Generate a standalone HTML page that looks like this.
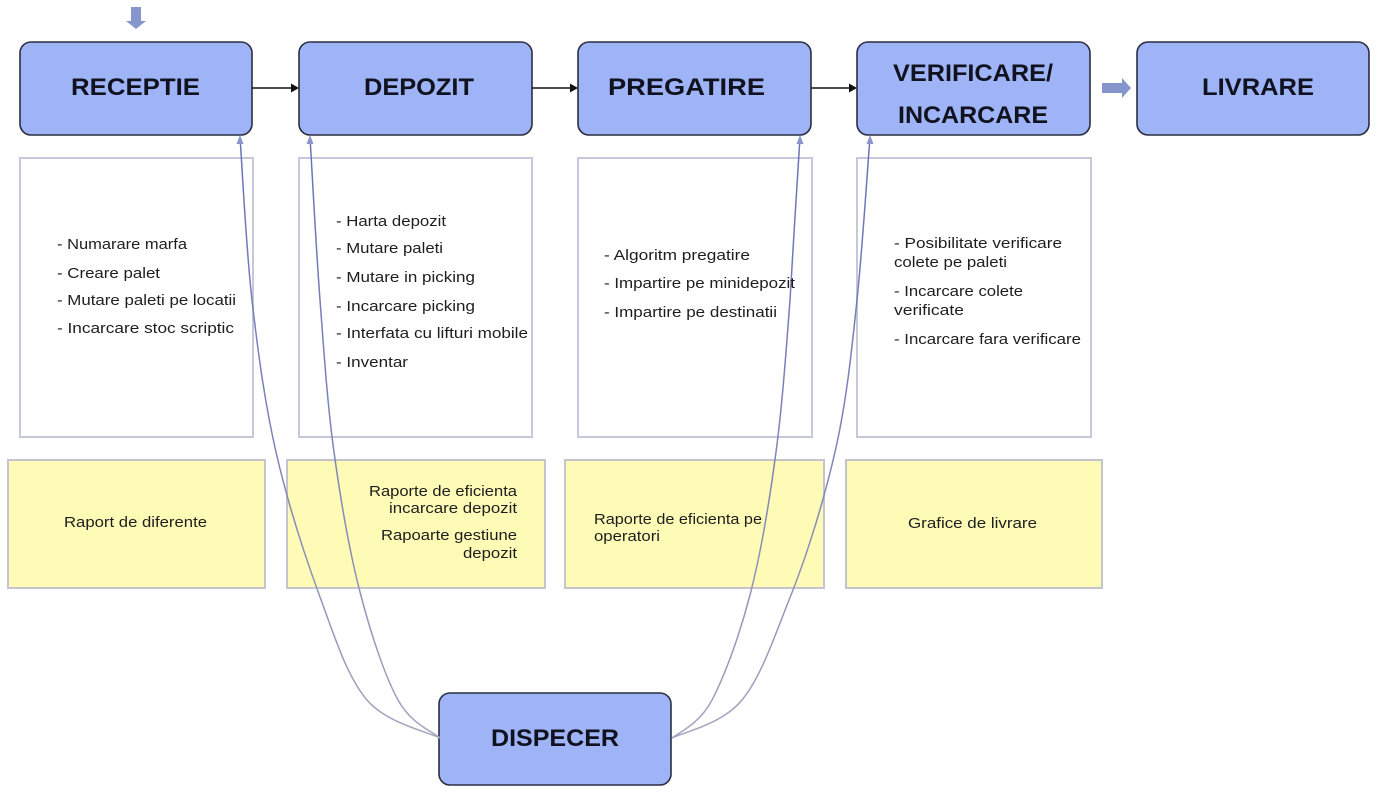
<!DOCTYPE html>
<html>
<head>
<meta charset="utf-8">
<style>
  html, body { margin: 0; padding: 0; background: #ffffff; }
  body { width: 1386px; height: 802px; overflow: hidden; }
  svg { display: block; }
  .t { font-family: "Liberation Sans", Arial, sans-serif; font-weight: bold; font-size: 24px; fill: #10121f; }
  .s { font-family: "Liberation Sans", Arial, sans-serif; font-size: 15px; fill: #1e1e1e; }
</style>
</head>
<body>
<svg width="1386" height="802" viewBox="0 0 1386 802" xmlns="http://www.w3.org/2000/svg">
  <defs>
    <linearGradient id="cg" x1="0" y1="0" x2="0" y2="1" gradientUnits="objectBoundingBox">
      <stop offset="0" stop-color="#6a72b8"/>
      <stop offset="0.6" stop-color="#8288b8"/>
      <stop offset="1" stop-color="#a4a7bd"/>
    </linearGradient>
  </defs>

  <!-- top input arrow -->
  <rect x="131" y="7" width="10" height="14" fill="#8696cc"/>
  <polygon points="126,21 146,21 136,29" fill="#8696cc"/>

  <!-- white description boxes -->
  <rect x="20" y="158" width="233" height="279" fill="#ffffff" stroke="#c6c7da" stroke-width="2"/>
  <rect x="299" y="158" width="233" height="279" fill="#ffffff" stroke="#c6c7da" stroke-width="2"/>
  <rect x="578" y="158" width="234" height="279" fill="#ffffff" stroke="#c6c7da" stroke-width="2"/>
  <rect x="857" y="158" width="234" height="279" fill="#ffffff" stroke="#c6c7da" stroke-width="2"/>

  <!-- yellow report boxes -->
  <rect x="8" y="460" width="257" height="128" fill="#fdfbb6" stroke="#c4c4cc" stroke-width="2"/>
  <rect x="287" y="460" width="258" height="128" fill="#fdfbb6" stroke="#c4c4cc" stroke-width="2"/>
  <rect x="565" y="460" width="259" height="128" fill="#fdfbb6" stroke="#c4c4cc" stroke-width="2"/>
  <rect x="846" y="460" width="256" height="128" fill="#fdfbb6" stroke="#c4c4cc" stroke-width="2"/>

  <!-- main process boxes -->
  <rect x="20" y="42" width="232" height="93" rx="11" ry="11" fill="#9fb4f6" stroke="#2b2d40" stroke-width="1.6"/>
  <rect x="299" y="42" width="233" height="93" rx="11" ry="11" fill="#9fb4f6" stroke="#2b2d40" stroke-width="1.6"/>
  <rect x="578" y="42" width="233" height="93" rx="11" ry="11" fill="#9fb4f6" stroke="#2b2d40" stroke-width="1.6"/>
  <rect x="857" y="42" width="233" height="93" rx="11" ry="11" fill="#9fb4f6" stroke="#2b2d40" stroke-width="1.6"/>
  <rect x="1137" y="42" width="232" height="93" rx="11" ry="11" fill="#9fb4f6" stroke="#2b2d40" stroke-width="1.6"/>
  <rect x="439" y="693" width="232" height="92" rx="11" ry="11" fill="#9fb4f6" stroke="#2b2d40" stroke-width="1.6"/>

  <!-- black connectors -->
  <line x1="252" y1="88" x2="292" y2="88" stroke="#111" stroke-width="1.6"/>
  <polygon points="291,83.5 299,88 291,92.5" fill="#111"/>
  <line x1="532" y1="88" x2="571" y2="88" stroke="#111" stroke-width="1.6"/>
  <polygon points="570,83.5 578,88 570,92.5" fill="#111"/>
  <line x1="811" y1="88" x2="850" y2="88" stroke="#111" stroke-width="1.6"/>
  <polygon points="849,83.5 857,88 849,92.5" fill="#111"/>

  <!-- block arrow to LIVRARE -->
  <rect x="1102" y="83" width="21" height="10" fill="#8696cc"/>
  <polygon points="1122,78 1131,88 1122,98" fill="#8696cc"/>

  <!-- dispatcher curves -->
  <g fill="none" stroke="url(#cg)" stroke-width="1.5">
    <path d="M240,137 C242,164.2 246,247.5 252,300 C258,352.5 264.7,402.5 276,452 C287.3,501.5 304.8,555.7 320,597 C335.2,638.3 347,676.5 367,700 C387,723.5 427.8,731.7 440,738"/>
    <path d="M310,137 C311.7,164.2 316,247.5 320,300 C324,352.5 327.3,403.3 334,452 C340.7,500.7 349.3,550.7 360,592 C370.7,633.3 384.7,675.7 398,700 C411.3,724.3 433,731.7 440,738"/>
    <path d="M800,137 C798.3,164.2 793,247.5 790,300 C786,352.5 782.5,402.8 776,452 C769.5,501.2 760.7,553.7 750,595 C739.3,636.3 724.5,676.2 712,700 C699.5,723.8 680.5,731.7 672,738"/>
    <path d="M870,137 C867.8,164.2 862.5,247.5 857,300 C851.5,352.7 846.3,402.8 835,452 C823.7,501.2 807.5,553.7 791,595 C774.5,636.3 761.5,676.2 742,700 C722.5,723.8 685.5,731.7 672,738"/>
  </g>
  <g fill="#8c94cb">
    <polygon points="240,135 236.5,144 243.5,144"/>
    <polygon points="310,135 306.5,144 313.5,144"/>
    <polygon points="800,135 796.5,144 803.5,144"/>
    <polygon points="870,135 866.5,144 873.5,144"/>
  </g>

  <!-- titles -->
  <text class="t" x="71" y="95" textLength="129" lengthAdjust="spacingAndGlyphs">RECEPTIE</text>
  <text class="t" x="364" y="95" textLength="110" lengthAdjust="spacingAndGlyphs">DEPOZIT</text>
  <text class="t" x="608" y="95" textLength="157" lengthAdjust="spacingAndGlyphs">PREGATIRE</text>
  <text class="t" x="893" y="81" textLength="160" lengthAdjust="spacingAndGlyphs">VERIFICARE/</text>
  <text class="t" x="898" y="123" textLength="150" lengthAdjust="spacingAndGlyphs">INCARCARE</text>
  <text class="t" x="1202" y="95" textLength="112" lengthAdjust="spacingAndGlyphs">LIVRARE</text>
  <text class="t" x="491" y="746" textLength="128" lengthAdjust="spacingAndGlyphs">DISPECER</text>

  <!-- box 1 list -->
  <text class="s" x="57" y="249" textLength="130" lengthAdjust="spacingAndGlyphs">- Numarare marfa</text>
  <text class="s" x="57" y="278" textLength="103" lengthAdjust="spacingAndGlyphs">- Creare palet</text>
  <text class="s" x="57" y="305" textLength="179" lengthAdjust="spacingAndGlyphs">- Mutare paleti pe locatii</text>
  <text class="s" x="57" y="333" textLength="177" lengthAdjust="spacingAndGlyphs">- Incarcare stoc scriptic</text>

  <!-- box 2 list -->
  <text class="s" x="336" y="226" textLength="110" lengthAdjust="spacingAndGlyphs">- Harta depozit</text>
  <text class="s" x="336" y="253" textLength="107" lengthAdjust="spacingAndGlyphs">- Mutare paleti</text>
  <text class="s" x="336" y="282" textLength="139" lengthAdjust="spacingAndGlyphs">- Mutare in picking</text>
  <text class="s" x="336" y="311" textLength="139" lengthAdjust="spacingAndGlyphs">- Incarcare picking</text>
  <text class="s" x="336" y="338" textLength="192" lengthAdjust="spacingAndGlyphs">- Interfata cu lifturi mobile</text>
  <text class="s" x="336" y="367" textLength="72" lengthAdjust="spacingAndGlyphs">- Inventar</text>

  <!-- box 3 list -->
  <text class="s" x="604" y="260" textLength="146" lengthAdjust="spacingAndGlyphs">- Algoritm pregatire</text>
  <text class="s" x="604" y="288" textLength="191" lengthAdjust="spacingAndGlyphs">- Impartire pe minidepozit</text>
  <text class="s" x="604" y="317" textLength="173" lengthAdjust="spacingAndGlyphs">- Impartire pe destinatii</text>

  <!-- box 4 list -->
  <text class="s" x="894" y="248" textLength="168" lengthAdjust="spacingAndGlyphs">- Posibilitate verificare</text>
  <text class="s" x="894" y="267" textLength="113" lengthAdjust="spacingAndGlyphs">colete pe paleti</text>
  <text class="s" x="894" y="296" textLength="129" lengthAdjust="spacingAndGlyphs">- Incarcare colete</text>
  <text class="s" x="894" y="315" textLength="70" lengthAdjust="spacingAndGlyphs">verificate</text>
  <text class="s" x="894" y="344" textLength="187" lengthAdjust="spacingAndGlyphs">- Incarcare fara verificare</text>

  <!-- yellow texts -->
  <text class="s" x="64" y="527" textLength="143" lengthAdjust="spacingAndGlyphs">Raport de diferente</text>

  <text class="s" x="369" y="496" textLength="148" lengthAdjust="spacingAndGlyphs">Raporte de eficienta</text>
  <text class="s" x="389" y="513" textLength="128" lengthAdjust="spacingAndGlyphs">incarcare depozit</text>
  <text class="s" x="381" y="540" textLength="136" lengthAdjust="spacingAndGlyphs">Rapoarte gestiune</text>
  <text class="s" x="463" y="558" textLength="54" lengthAdjust="spacingAndGlyphs">depozit</text>

  <text class="s" x="594" y="524" textLength="168" lengthAdjust="spacingAndGlyphs">Raporte de eficienta pe</text>
  <text class="s" x="594" y="541" textLength="66" lengthAdjust="spacingAndGlyphs">operatori</text>

  <text class="s" x="908" y="528" textLength="129" lengthAdjust="spacingAndGlyphs">Grafice de livrare</text>
</svg>
</body>
</html>
